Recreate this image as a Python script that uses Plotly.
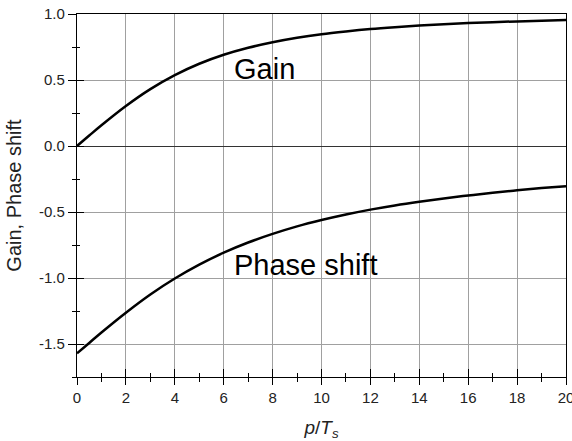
import plotly.graph_objects as go

# ---- data ----
x_vals = [0, 0.5, 1, 2, 3, 4, 5, 6, 7, 8, 9, 10, 11, 12, 13, 14, 15, 16, 17, 18, 19, 20]
gain = [0.0, 0.079, 0.157, 0.303, 0.431, 0.537, 0.623, 0.691, 0.744, 0.786, 0.820, 0.847,
        0.868, 0.886, 0.900, 0.912, 0.922, 0.931, 0.938, 0.944, 0.949, 0.954]
phase = [-1.571, -1.492, -1.413, -1.263, -1.125, -1.004, -0.899, -0.808, -0.731, -0.666,
         -0.609, -0.561, -0.519, -0.482, -0.450, -0.422, -0.397, -0.375, -0.354, -0.336,
         -0.319, -0.304]

x_tickvals = [0, 2, 4, 6, 8, 10, 12, 14, 16, 18, 20]
x_ticktext = ["0", "2", "4", "6", "8", "10", "12", "14", "16", "18", "20"]
y_tickvals = [-1.5, -1.0, -0.5, 0.0, 0.5, 1.0]
y_ticktext = ["-1.5", "-1.0", "-0.5", "0.0", "0.5", "1.0"]

label_gain = "Gain"
label_phase = "Phase shift"

X_RANGE = [0, 20]
Y_RANGE = [-1.75, 1.0]

fig = go.Figure()
fig.add_trace(go.Scatter(x=x_vals, y=phase, mode="lines", line=dict(color="black", width=2.5, shape="spline"),
                         showlegend=False, hoverinfo="skip", cliponaxis=False))
fig.add_trace(go.Scatter(x=x_vals, y=gain, mode="lines", line=dict(color="black", width=2.5, shape="spline"),
                         showlegend=False, hoverinfo="skip", xaxis="x2", yaxis="y2", cliponaxis=False))

FAM = "Liberation Sans, Arial, sans-serif"
font = dict(family=FAM, size=15, color="#222")

fig.update_layout(
    width=572, height=441,
    margin=dict(l=77, r=6, t=14, b=64, autoexpand=False),
    paper_bgcolor="white", plot_bgcolor="white",
    font=font,
    xaxis=dict(range=X_RANGE, tickvals=x_tickvals, ticktext=x_ticktext,
               showgrid=True, gridcolor="#a0a0a0", gridwidth=1,
               ticks="outside", ticklen=7, tickwidth=1.2, tickcolor="black",
               minor=dict(ticks="outside", ticklen=4, dtick=1, tick0=0, tickcolor="black", showgrid=False),
               showline=True, linecolor="black", linewidth=1.3, mirror=True,
               zeroline=False, ticklabeloverflow="allow", automargin=False,
               title=dict(text="<i>p</i>/<i>T</i><sub><i>s</i></sub>",
                          font=dict(family=FAM, size=19, color="#222"), standoff=16),
               tickfont=dict(family=FAM, size=15, color="#222")),
    yaxis=dict(range=Y_RANGE, tickvals=y_tickvals, ticktext=y_ticktext,
               showgrid=True, gridcolor="#a0a0a0", gridwidth=1,
               ticks="outside", ticklen=8, tickwidth=1.2, tickcolor="black",
               minor=dict(ticks="outside", ticklen=4, dtick=0.25, tick0=0, tickcolor="black", showgrid=False),
               showline=True, linecolor="black", linewidth=1.3, mirror=True,
               zeroline=True, zerolinecolor="#333", zerolinewidth=1.3, automargin=False,
               title=dict(text="Gain, Phase shift",
                          font=dict(family=FAM, size=20, color="#222"), standoff=11),
               tickfont=dict(family=FAM, size=15, color="#222")),
    xaxis2=dict(range=X_RANGE, overlaying="x", anchor="y2", side="bottom",
                showgrid=False, zeroline=False, showticklabels=False,
                tickvals=x_tickvals, ticks="inside", ticklen=8, tickwidth=1.2, tickcolor="black",
                minor=dict(ticks="inside", ticklen=4, dtick=1, tick0=0, tickcolor="black", showgrid=False),
                showline=False),
    yaxis2=dict(range=Y_RANGE, overlaying="y", anchor="x2", side="left",
                showgrid=False, zeroline=False, showticklabels=False,
                tickvals=y_tickvals, ticks="inside", ticklen=7, tickwidth=1.2, tickcolor="black",
                minor=dict(ticks="inside", ticklen=3, dtick=0.25, tick0=0, tickcolor="black", showgrid=False),
                showline=False),
    annotations=[
        dict(x=6.35, y=0.58, xref="x", yref="y", text=label_gain, showarrow=False,
             xanchor="left", yanchor="middle", font=dict(family=FAM, size=29, color="black")),
        dict(x=6.35, y=-0.9, xref="x", yref="y", text=label_phase, showarrow=False,
             xanchor="left", yanchor="middle", font=dict(family=FAM, size=29, color="black")),
    ],
)

fig.write_html("out.html")
